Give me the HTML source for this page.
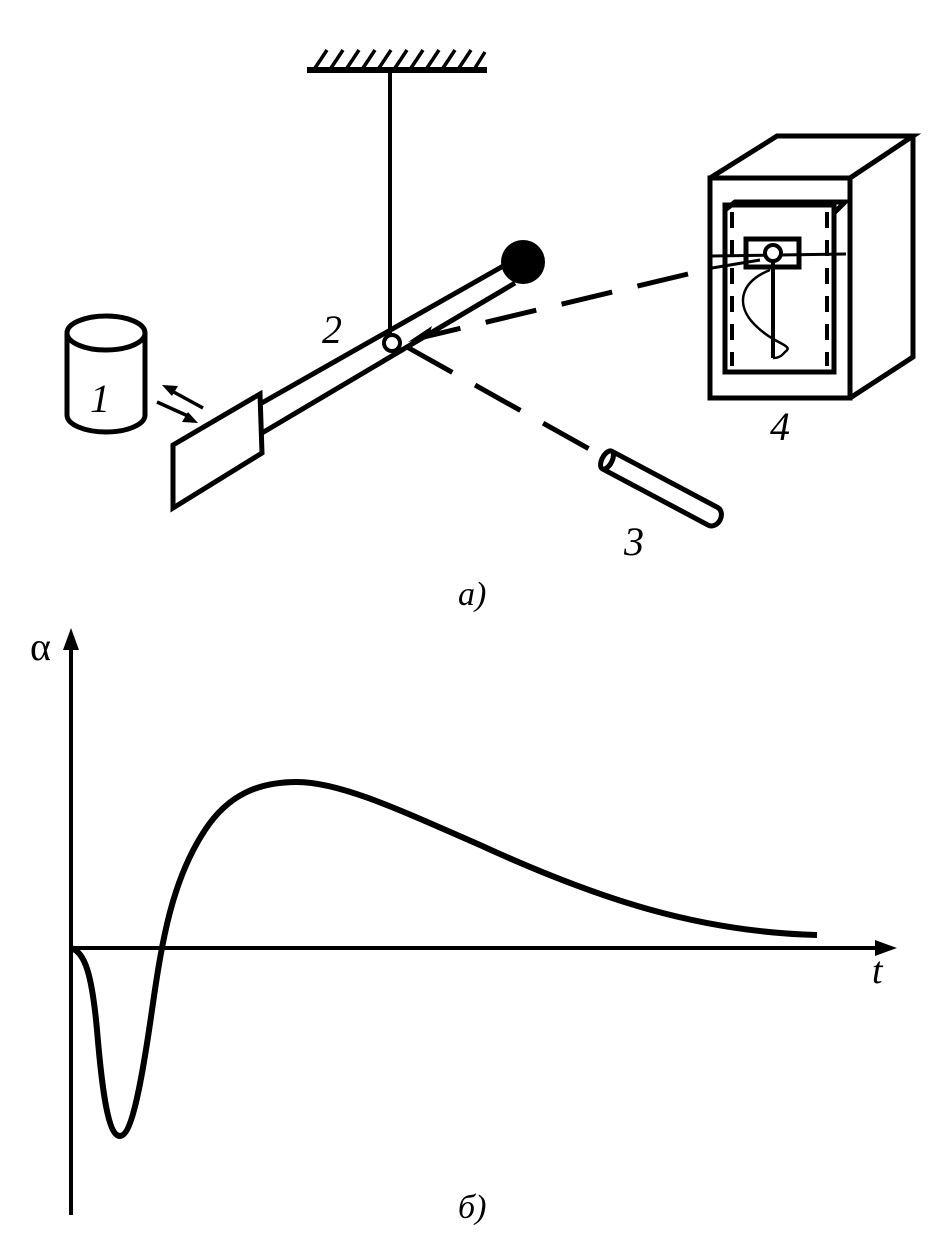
<!DOCTYPE html>
<html><head><meta charset="utf-8"><style>
html,body{margin:0;padding:0;background:#fff;}
svg{display:block;}
text{font-family:"Liberation Serif",serif;fill:#000;}
</style></head><body>
<svg width="950" height="1250" viewBox="0 0 950 1250" xmlns="http://www.w3.org/2000/svg">
<g stroke="#000" stroke-width="5" fill="none" stroke-linecap="butt">
  <!-- ceiling -->
  <line x1="307" y1="70" x2="487" y2="70" stroke-width="6"/>
  <g stroke-width="3.5">
    <line x1="315" y1="68" x2="327" y2="50"/><line x1="331" y1="68" x2="343" y2="50"/>
    <line x1="347" y1="68" x2="359" y2="50"/><line x1="363" y1="68" x2="375" y2="50"/>
    <line x1="379" y1="68" x2="391" y2="50"/><line x1="395" y1="68" x2="407" y2="50"/>
    <line x1="411" y1="68" x2="423" y2="50"/><line x1="427" y1="68" x2="439" y2="50"/>
    <line x1="443" y1="68" x2="455" y2="50"/><line x1="459" y1="68" x2="471" y2="50"/>
    <line x1="475" y1="68" x2="485" y2="52"/>
  </g>
  <line x1="390" y1="70" x2="390" y2="335" stroke-width="4"/>
  <!-- rod -->
  <line x1="260" y1="404" x2="505" y2="265"/>
  <line x1="262" y1="433" x2="515" y2="283"/>
  <!-- plate -->
  <polygon points="173,445 260,394 262,453 173,508" fill="#fff"/>
  <!-- dashed beams -->
  <line x1="407" y1="347" x2="600" y2="455" stroke-dasharray="52,26"/>
  <line x1="688" y1="274" x2="420" y2="338" stroke-dasharray="52,26"/>
  <!-- cylinder 1 -->
  <path d="M67,333 L67,415 A39,17 0 0 0 145,415 L145,333"/>
  <ellipse cx="106" cy="333" rx="39" ry="17"/>
  <!-- small arrows -->
  <line x1="203" y1="408" x2="170" y2="390" stroke-width="3.5"/>
  <line x1="157" y1="402" x2="188" y2="416" stroke-width="3.5"/>
  <!-- box 4 -->
  <g stroke-width="5" stroke-linejoin="miter">
    <rect x="710" y="178" width="140" height="220"/>
    <polyline points="710,178 777,136 913,136 850,178"/>
    <polyline points="913,136 913,357 850,398"/>
    <rect x="725" y="205" width="109" height="167"/>
    <polyline points="725,210 735,202 845,202 834,213"/>
    <rect x="746" y="239" width="53" height="28"/>
  </g>
  <line x1="732" y1="212" x2="732" y2="366" stroke-width="4" stroke-dasharray="16,12"/>
  <line x1="827" y1="212" x2="827" y2="366" stroke-width="4" stroke-dasharray="16,12"/>
  <line x1="712" y1="256" x2="846" y2="254" stroke-width="3"/>
  <line x1="712" y1="268" x2="760" y2="260" stroke-width="3"/>
  <line x1="773" y1="262" x2="773" y2="358" stroke-width="4"/>
  <path d="M770,270 C740,282 735,305 755,325 C775,345 795,345 785,352 C780,358 776,358 773,358" stroke-width="2.5"/>
  <circle cx="773" cy="253" r="8" fill="#fff" stroke-width="4"/>
  <!-- tube 3 -->
  <g transform="translate(607,460) rotate(28)">
    <path d="M0,-10 L120,-10 A8,10 0 0 1 120,10 L0,10" fill="#fff"/>
    <ellipse cx="0" cy="0" rx="5" ry="10" fill="#fff"/>
  </g>
  <!-- graph axes -->
  <line x1="71" y1="640" x2="71" y2="1215" stroke-width="4"/>
  <line x1="71" y1="948" x2="885" y2="948" stroke-width="4"/>
  <!-- curve -->
  <path d="M71,948 C85,952 92,975 97,1030 C102,1090 108,1136 120,1136 C132,1136 142,1080 152,1010 C162,940 172,880 205,830 C228,795 258,782 297,782 C340,782 400,810 480,845 C600,900 700,932 817,935" stroke-width="6"/>
</g>
<g fill="#000">
  <circle cx="523" cy="262" r="22"/>
  <circle cx="392" cy="343" r="8" fill="#fff" stroke="#000" stroke-width="4"/>
  <polygon points="408,342 432,326 428,338"/>
  <polygon points="162,385 178,386 172,396"/>
  <polygon points="198,423 182,422 188,412"/>
  <polygon points="71,628 63,650 79,650"/>
  <polygon points="897,948 875,940 875,956"/>
</g>
<g font-style="italic">
  <text x="90" y="412" font-size="40">1</text>
  <text x="322" y="343" font-size="40">2</text>
  <text x="624" y="555" font-size="40">3</text>
  <text x="770" y="440" font-size="40">4</text>
  <text x="458" y="605" font-size="34">а)</text>
  <text x="458" y="1218" font-size="34">б)</text>
  <text x="872" y="983" font-size="38">t</text>
</g>
<text x="30" y="660" font-size="40">α</text>
</svg>
</body></html>
